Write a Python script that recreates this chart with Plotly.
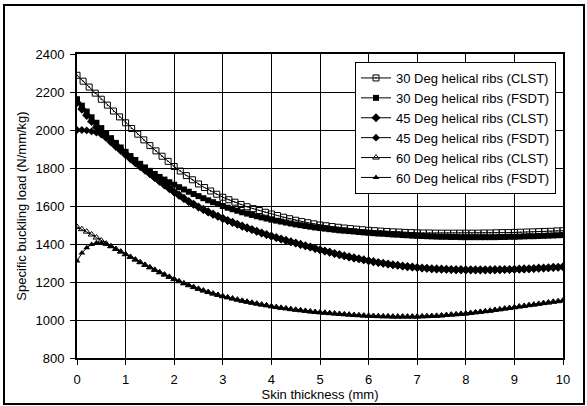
import plotly.graph_objects as go

# ---------------- data ----------------
x_step01 = [round(i * 0.1, 2) for i in range(101)]
x_step0125 = [round(i * 0.125, 3) for i in range(81)]

deg30_clst = [
    2288, 2257, 2226, 2194, 2162, 2131, 2100, 2069, 2038, 2008,
    1978, 1948, 1918, 1890, 1862, 1835, 1808, 1784, 1760, 1738,
    1716, 1697, 1679, 1662, 1646, 1633, 1620, 1608, 1596, 1586,
    1576, 1567, 1558, 1550, 1541, 1533, 1525, 1518, 1512, 1506,
    1500, 1496, 1492, 1488, 1484, 1481, 1478, 1475, 1472, 1470,
    1468, 1466, 1464, 1463, 1461, 1460, 1459, 1458, 1458, 1457,
    1457, 1457, 1457, 1457, 1457, 1457, 1457, 1458, 1458, 1459,
    1460, 1460, 1461, 1462, 1463, 1464, 1465, 1466, 1467, 1469,
    1470,
]

deg30_fsdt = [
    2162, 2128, 2097, 2067, 2038, 2010, 1983, 1957, 1932, 1908,
    1885, 1863, 1842, 1822, 1803, 1785, 1769, 1753, 1739, 1725,
    1712, 1699, 1687, 1675, 1663, 1652, 1641, 1630, 1620, 1610,
    1600, 1591, 1583, 1575, 1567, 1560, 1553, 1546, 1540, 1534,
    1528, 1523, 1518, 1513, 1508, 1503, 1499, 1495, 1491, 1487,
    1484, 1481, 1478, 1475, 1472, 1470, 1468, 1466, 1463, 1461,
    1459, 1457, 1455, 1454, 1452, 1450, 1449, 1447, 1446, 1444,
    1443, 1442, 1441, 1440, 1439, 1438, 1438, 1437, 1437, 1436,
    1436, 1436, 1436, 1436, 1436, 1436, 1436, 1437, 1437, 1438,
    1438, 1439, 1440, 1441, 1441, 1442, 1443, 1444, 1445, 1446,
    1447,
]

deg45_clst = [
    2145, 2110, 2077, 2045, 2015, 1987, 1961, 1937, 1914, 1892,
    1870, 1849, 1828, 1808, 1789, 1770, 1750, 1730, 1711, 1692,
    1674, 1657, 1640, 1624, 1609, 1595, 1582, 1569, 1557, 1546,
    1535, 1524, 1514, 1504, 1494, 1485, 1476, 1467, 1458, 1450,
    1442, 1434, 1426, 1419, 1412, 1405, 1398, 1391, 1384, 1377,
    1370, 1363, 1357, 1350, 1344, 1338, 1332, 1327, 1322, 1317,
    1312, 1307, 1303, 1299, 1295, 1291, 1288, 1284, 1281, 1279,
    1276, 1274, 1272, 1270, 1269, 1268, 1267, 1266, 1265, 1265,
    1264, 1264, 1264, 1264, 1264, 1264, 1265, 1265, 1266, 1266,
    1267, 1268, 1269, 1270, 1271, 1273, 1274, 1275, 1277, 1278,
    1280,
]

deg45_fsdt = [
    2000, 2000, 1998, 1993, 1986, 1976, 1963, 1947, 1925, 1900,
    1878, 1855, 1832, 1810, 1789, 1768, 1748, 1728, 1709, 1690,
    1672, 1655, 1638, 1622, 1607, 1593, 1580, 1567, 1555, 1544,
    1533, 1522, 1512, 1502, 1492, 1483, 1474, 1465, 1456, 1448,
    1440, 1432, 1424, 1417, 1410, 1403, 1396, 1389, 1382, 1375,
    1368, 1361, 1355, 1348, 1342, 1336, 1330, 1325, 1320, 1315,
    1310, 1305, 1301, 1297, 1293, 1289, 1286, 1282, 1279, 1277,
    1274, 1272, 1270, 1268, 1267, 1266, 1265, 1264, 1263, 1263,
    1262, 1262, 1262, 1262, 1262, 1262, 1263, 1263, 1264, 1264,
    1265, 1266, 1267, 1268, 1269, 1271, 1272, 1273, 1275, 1276,
    1278,
]

deg60_clst = [
    1490, 1478, 1465, 1450, 1434, 1418, 1402, 1388, 1374, 1360,
    1346, 1332, 1318, 1304, 1290, 1277, 1264, 1251, 1239, 1227,
    1215, 1204, 1193, 1183, 1173, 1164, 1155, 1147, 1139, 1132,
    1125, 1119, 1113, 1107, 1101, 1096, 1091, 1086, 1081, 1077,
    1072, 1068, 1064, 1061, 1057, 1054, 1051, 1048, 1045, 1042,
    1040, 1038, 1036, 1034, 1032, 1030, 1028, 1026, 1025, 1023,
    1022, 1021, 1020, 1019, 1019, 1018, 1018, 1018, 1018, 1018,
    1018, 1019, 1020, 1021, 1022, 1024, 1026, 1028, 1030, 1032,
    1034, 1037, 1040, 1043, 1046, 1049, 1053, 1056, 1060, 1063,
    1067, 1071, 1074, 1078, 1081, 1085, 1089, 1092, 1096, 1099,
    1103,
]

deg60_fsdt = [
    1310, 1352, 1380, 1398, 1406, 1405, 1399, 1387, 1373, 1359,
    1345, 1331, 1317, 1303, 1289, 1276, 1263, 1250, 1238, 1226,
    1214, 1203, 1192, 1182, 1172, 1163, 1154, 1146, 1138, 1131,
    1124, 1118, 1112, 1106, 1100, 1095, 1090, 1085, 1080, 1076,
    1071, 1067, 1063, 1060, 1056, 1053, 1050, 1047, 1044, 1041,
    1039, 1037, 1035, 1033, 1031, 1029, 1027, 1025, 1024, 1022,
    1021, 1020, 1019, 1018, 1018, 1017, 1017, 1017, 1017, 1017,
    1017, 1018, 1019, 1020, 1021, 1023, 1025, 1027, 1029, 1031,
    1033, 1036, 1039, 1042, 1045, 1048, 1052, 1055, 1059, 1062,
    1066, 1070, 1073, 1077, 1080, 1084, 1088, 1091, 1095, 1098,
    1101,
]

series_names = [
    "30 Deg helical ribs (CLST)",
    "30 Deg helical ribs (FSDT)",
    "45 Deg helical ribs (CLST)",
    "45 Deg helical ribs (FSDT)",
    "60 Deg helical ribs (CLST)",
    "60 Deg helical ribs (FSDT)",
]

x_ticks = list(range(0, 11))
y_ticks = [800, 1000, 1200, 1400, 1600, 1800, 2000, 2200, 2400]

# ---------------- figure ----------------
FONT = "Liberation Sans, Arial, sans-serif"
fig = go.Figure()

styles = [
    (x_step0125, deg30_clst, dict(symbol="square-open-dot", size=6, color="black", line=dict(width=1, color="black"))),
    (x_step01, deg30_fsdt, dict(symbol="square", size=6, color="black")),
    (x_step01, deg45_clst, dict(symbol="diamond", size=7, color="black")),
    (x_step01, deg45_fsdt, dict(symbol="diamond", size=6, color="black")),
    (x_step01, deg60_clst, dict(symbol="triangle-up-open", size=6, color="black", line=dict(width=1, color="black"))),
    (x_step01, deg60_fsdt, dict(symbol="triangle-up", size=6, color="black")),
]

for name, (xs, ys, mk) in zip(series_names, styles):
    fig.add_trace(go.Scatter(
        x=xs, y=ys, name=name, mode="lines+markers",
        line=dict(color="black", width=1), marker=mk,
    ))

W, H = 587, 406
L, R, T, B = 77, 24, 54, 48
pw, ph = W - L - R, H - T - B

def px_to_paper(px, py):
    return (px - L) / pw, (H - B - py) / ph

x0, y1 = px_to_paper(4, 5)
x1, y0 = px_to_paper(584, 404)
fig.add_shape(type="rect", xref="paper", yref="paper",
              x0=x0, y0=y0, x1=x1, y1=y1,
              line=dict(color="black", width=2), layer="below")

fig.update_layout(
    width=W, height=H,
    margin=dict(l=L, r=R, t=T, b=B, pad=0, autoexpand=False),
    paper_bgcolor="white", plot_bgcolor="white",
    font=dict(family=FONT, size=13, color="black"),
    showlegend=True,
    legend=dict(
        x=(556 - L) / pw, xanchor="right",
        y=(H - B - 62) / ph, yanchor="top",
        bgcolor="white", bordercolor="black", borderwidth=1,
        font=dict(family=FONT, size=13, color="black"),
        tracegroupgap=0, itemwidth=30,
    ),
    xaxis=dict(
        range=[0, 10], tickmode="array", tickvals=x_ticks,
        ticktext=[str(t) for t in x_ticks],
        showgrid=True, gridcolor="black", gridwidth=1,
        showline=True, linecolor="black", linewidth=2, mirror=True,
        ticks="outside", ticklen=5, tickcolor="black", tickwidth=1,
        zeroline=False, ticklabelstandoff=3, automargin=False,
        title=dict(text="Skin thickness (mm)", standoff=2,
                   font=dict(family=FONT, size=13, color="black")),
        tickfont=dict(family=FONT, size=13, color="black"),
    ),
    yaxis=dict(
        range=[800, 2400], tickmode="array", tickvals=y_ticks,
        ticktext=[str(t) for t in y_ticks],
        showgrid=True, gridcolor="black", gridwidth=1,
        showline=True, linecolor="black", linewidth=2, mirror=True,
        ticks="outside", ticklen=5, tickcolor="black", tickwidth=1,
        zeroline=False, ticklabelstandoff=3, automargin=False,
        title=dict(text="Specific buckling load (N/mm/kg)", standoff=6,
                   font=dict(family=FONT, size=13, color="black")),
        tickfont=dict(family=FONT, size=13, color="black"),
    ),
)

fig.write_html(
    "out.html",
    config={"displayModeBar": False},
    post_script="document.body.style.margin='0';document.body.style.overflow='hidden';",
)
